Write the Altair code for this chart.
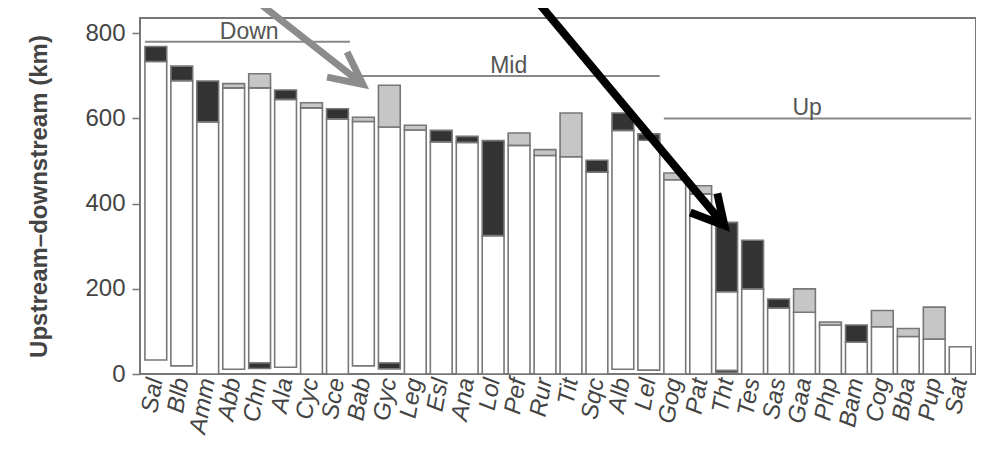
import altair as alt
import pandas as pd

# ---------------- data ----------------
species = ["Sal", "Blb", "Amm", "Abb", "Chn", "Ala", "Cyc", "Sce", "Bab", "Gyc",
           "Leg", "Esl", "Ana", "Lol", "Pef", "Rur", "Tit", "Sqc", "Alb", "Lel",
           "Gog", "Pat", "Tht", "Tes", "Sas", "Gaa", "Php", "Bam", "Cog", "Bba",
           "Pup", "Sat"]
bar_bottom = [33, 19, 0, 11, 13, 16, 0, 0, 19, 12, 0, 0, 0, 0, 0, 0,
              0, 0, 11, 9, 0, 0, 3, 0, 0, 0, 0, 0, 0, 0, 0, 0]
white_bottom = [33, 19, 0, 11, 26, 16, 0, 0, 19, 26, 0, 0, 0, 0, 0, 0,
                0, 0, 11, 9, 0, 0, 8, 0, 0, 0, 0, 0, 0, 0, 0, 0]
white_top = [734, 689, 592, 672, 672, 645, 625, 599, 593, 580, 573, 545, 544, 325, 537, 513,
             510, 474, 572, 549, 456, 423, 193, 200, 155, 145, 115, 75, 111, 88, 82, 64]
bar_top = [769, 723, 688, 682, 705, 667, 637, 623, 603, 678, 584, 572, 558, 548, 566, 527,
           613, 502, 613, 564, 472, 442, 356, 314, 176, 200, 122, 115, 149, 107, 157, 64]
top_kind = ["black", "black", "black", "gray", "gray", "black", "gray", "black", "gray", "gray",
            "gray", "black", "black", "black", "gray", "gray", "gray", "black", "black", "black",
            "gray", "gray", "black", "black", "black", "gray", "gray", "black", "gray", "gray",
            "gray", "none"]

# group brackets (x in bar-index units, y in km)
groups = ["Down", "Mid", "Up"]
group_start = [-0.42, 7.85, 19.58]
group_end = [7.48, 19.42, 31.42]
group_level = [780, 700, 600]
group_label_pos = [3.6, 13.6, 25.1]

# annotation arrows (x in bar-index units, y in km)
arrow_name = ["gray", "gray", "gray", "gray", "gray",
              "black", "black", "black", "black", "black"]
arrow_part = ["shaft", "shaft", "head", "head", "head",
              "shaft", "shaft", "head", "head", "head"]
arrow_order = [0, 1, 0, 1, 2, 0, 1, 0, 1, 2]
arrow_u = [3.84, 7.98, 6.6, 7.98, 7.37, 14.66, 21.91, 20.6, 21.91, 21.64]
arrow_v = [878, 680, 697, 680, 756, 878, 349, 379.5, 349, 424]

# ---------------- layout ----------------
W, H = 836, 356
PAD_INNER, PAD_OUTER = 0.16, 0.19
N = len(species)
u_lo = -(PAD_OUTER + (1 - PAD_INNER) / 2)
u_hi = (N - PAD_INNER + 2 * PAD_OUTER) + u_lo
Y_MAX = 836

FONT = "Liberation Sans"
FRAME = "#777777"

bars = pd.DataFrame({
    "species": species, "bar_bottom": bar_bottom, "white_bottom": white_bottom,
    "white_top": white_top, "bar_top": bar_top, "kind": top_kind,
})
grp = pd.DataFrame({"g": groups, "s": group_start, "e": group_end,
                    "v": group_level, "lu": group_label_pos})
arrows = pd.DataFrame({"arrow": arrow_name, "part": arrow_part, "ord": arrow_order,
                       "u": arrow_u, "v": arrow_v})

xband = alt.Scale(domain=species, paddingInner=PAD_INNER, paddingOuter=PAD_OUTER)
yscale = alt.Scale(domain=[0, Y_MAX], nice=False, zero=False)
uscale = alt.Scale(domain=[u_lo, u_hi], nice=False, zero=False)

x_axis = alt.Axis(title=None, labelAngle=-80, labelFont=FONT, labelFontStyle="italic",
                  labelFontSize=24, labelColor="#444444", ticks=False, domain=False,
                  labelPadding=4, grid=False)
Y_TITLE = "Upstream\u2013downstream (km)"
y_axis = alt.Axis(title=Y_TITLE, values=[0, 200, 400, 600, 800],
                  labelFont=FONT, labelFontSize=24, labelColor="#444444",
                  tickSize=8, tickColor=FRAME, tickWidth=1.5, domain=False, grid=False,
                  labelPadding=7, titleFont=FONT, titleFontSize=24, titleFontWeight="bold",
                  titleColor="#444444", titleX=-101, titleBaseline="middle")


def X():
    return alt.X("species:N", sort=species, scale=xband, axis=x_axis, title=None)


def Y(field):
    return alt.Y(field, scale=yscale, axis=y_axis, title=Y_TITLE)


base = alt.Chart(bars)

white = base.mark_bar(fill="white", stroke=FRAME, strokeWidth=1.6).encode(
    x=X(), y=Y("white_bottom:Q"), y2="white_top:Q",
)
top = base.transform_filter(alt.datum.kind != "none").mark_bar(
    stroke=FRAME, strokeWidth=1.6).encode(
    x=X(), y=Y("white_top:Q"), y2="bar_top:Q",
    fill=alt.Fill("kind:N", scale=alt.Scale(domain=["black", "gray"],
                                            range=["#333333", "#c6c6c6"]), legend=None),
)
bottom = base.transform_filter(alt.datum.white_bottom > alt.datum.bar_bottom).mark_bar(
    fill="#333333", stroke=FRAME, strokeWidth=1.6).encode(
    x=X(), y=Y("bar_bottom:Q"), y2="white_bottom:Q",
)
bar_layer = alt.layer(white, top, bottom)

rules = alt.Chart(grp).mark_rule(color="#888888", strokeWidth=2).encode(
    x=alt.X("s:Q", scale=uscale, axis=None),
    x2="e:Q",
    y=Y("v:Q"),
)
labels = alt.Chart(grp).mark_text(font=FONT, fontSize=23, color="#555555",
                                  baseline="alphabetic", align="center", dy=-3).encode(
    x=alt.X("lu:Q", scale=uscale, axis=None),
    y=Y("v:Q"),
    text="g:N",
)
gray_arrow = alt.Chart(arrows).transform_filter(alt.datum.arrow == "gray").mark_line(
    color="#8c8c8c", strokeWidth=7, strokeCap="butt", strokeJoin="miter", clip=False).encode(
    x=alt.X("u:Q", scale=uscale, axis=None),
    y=Y("v:Q"),
    detail="part:N",
    order="ord:Q",
)
black_arrow = alt.Chart(arrows).transform_filter(alt.datum.arrow == "black").mark_line(
    color="#000000", strokeWidth=8, strokeCap="butt", strokeJoin="miter", clip=False).encode(
    x=alt.X("u:Q", scale=uscale, axis=None),
    y=Y("v:Q"),
    detail="part:N",
    order="ord:Q",
)

chart = alt.layer(bar_layer, rules, labels, gray_arrow, black_arrow).resolve_scale(
    x="independent"
).properties(
    width=W, height=H,
    autosize=alt.AutoSizeParams(type="none"),
    padding={"left": 132, "top": 10, "right": 0, "bottom": 72},
    background="white",
).configure_view(stroke=FRAME, strokeWidth=2)

chart.save("out.html", embed_options={"renderer": "svg", "actions": False})
